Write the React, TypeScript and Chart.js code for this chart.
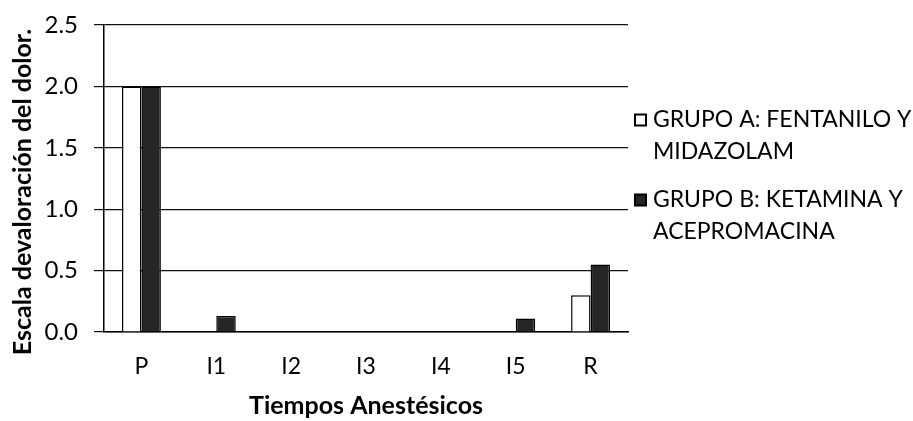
import React, { useEffect, useRef } from "react";
import { Chart, registerables } from "chart.js";

Chart.register(...registerables);

const categories = ["P", "I1", "I2", "I3", "I4", "I5", "R"];
const grupoA = [2.0, 0, 0, 0, 0, 0, 0.3];
const grupoB = [2.0, 0.13, 0, 0, 0, 0.11, 0.55];
const seriesLabels = [
  ["GRUPO A: FENTANILO Y", "MIDAZOLAM"],
  ["GRUPO B: KETAMINA Y", "ACEPROMACINA"],
];
const yTicks = [0, 0.5, 1.0, 1.5, 2.0, 2.5];
const yTitle = "Escala devaloración del dolor.";
const xTitle = "Tiempos Anestésicos";

const FONT = "Lato, 'Open Sans', sans-serif";
const DARK = "#262626";

const legendPlugin = {
  id: "sideLegend",
  afterDraw(chart: any) {
    const ctx = chart.ctx;
    ctx.save();
    ctx.font = `23px ${FONT}`;
    ctx.textBaseline = "middle";
    ctx.textAlign = "left";
    const x0 = 635;
    const tx = 653;
    const starts = [120, 200];
    chart.data.datasets.forEach((ds: any, i: number) => {
      const y = starts[i];
      ctx.fillStyle = ds.backgroundColor;
      ctx.fillRect(x0, y - 5.5, 11, 11);
      ctx.strokeStyle = "#000";
      ctx.lineWidth = 2;
      ctx.strokeRect(x0, y - 5.5, 11, 11);
      ctx.fillStyle = "#000";
      (ds.legendLines as string[]).forEach((line, j) => {
        ctx.fillText(line, tx, y + j * 32);
      });
    });
    // y axis title
    ctx.translate(23, 192);
    ctx.rotate(-Math.PI / 2);
    ctx.font = `bold 25px ${FONT}`;
    ctx.textAlign = "center";
    ctx.fillText(yTitle, 0, 0);
    ctx.restore();
  },
};

export default function App() {
  const ref = useRef<HTMLCanvasElement>(null);
  useEffect(() => {
    if (!ref.current) return;
    const chart = new Chart(ref.current, {
      type: "bar",
      data: {
        labels: categories,
        datasets: [
          {
            label: seriesLabels[0].join(" "),
            legendLines: seriesLabels[0],
            data: grupoA,
            backgroundColor: "#ffffff",
            borderColor: "#000000",
            borderWidth: 1.5,
          } as any,
          {
            label: seriesLabels[1].join(" "),
            legendLines: seriesLabels[1],
            data: grupoB,
            backgroundColor: DARK,
            borderColor: "#000000",
            borderWidth: 1.5,
          } as any,
        ],
      },
      options: {
        animation: false,
        responsive: true,
        maintainAspectRatio: false,
        layout: { padding: { top: 25, right: 285, bottom: 0, left: 0 } },
        datasets: { bar: { categoryPercentage: 0.52, barPercentage: 1.0 } },
        plugins: { legend: { display: false }, tooltip: { enabled: false } },
        scales: {
          x: {
            grid: { display: false },
            border: { display: true, color: "#000", width: 1.5 },
            ticks: { color: "#000", font: { family: FONT, size: 23 }, padding: 13 },
            title: {
              display: true,
              text: xTitle,
              color: "#000",
              font: { family: FONT, size: 25, weight: "bold" },
              padding: { top: 4, bottom: 0 },
            },
            afterFit(scale: any) {
              scale.height = 89;
              scale.paddingLeft = 0;
              scale.paddingRight = 0;
            },
          },
          y: {
            min: 0,
            max: 2.5,
            afterBuildTicks(scale: any) {
              scale.ticks = yTicks.map((v) => ({ value: v }));
            },
            grid: { color: "#111", lineWidth: 1.2, tickLength: 10 },
            border: { display: true, color: "#000", width: 1.5 },
            ticks: {
              color: "#000",
              font: { family: FONT, size: 24 },
              padding: 16,
              callback: (v: any) => Number(v).toFixed(1),
            },
            title: { display: false },
            afterFit(scale: any) {
              scale.width = 104;
              scale.paddingTop = 0;
              scale.paddingBottom = 0;
            },
          },
        },
      },
      plugins: [legendPlugin],
    });
    return () => chart.destroy();
  }, []);
  return (
    <div style={{ position: "fixed", left: 0, top: 0, width: 913, height: 421, background: "#fff" }}>
      <canvas ref={ref} />
    </div>
  );
}
